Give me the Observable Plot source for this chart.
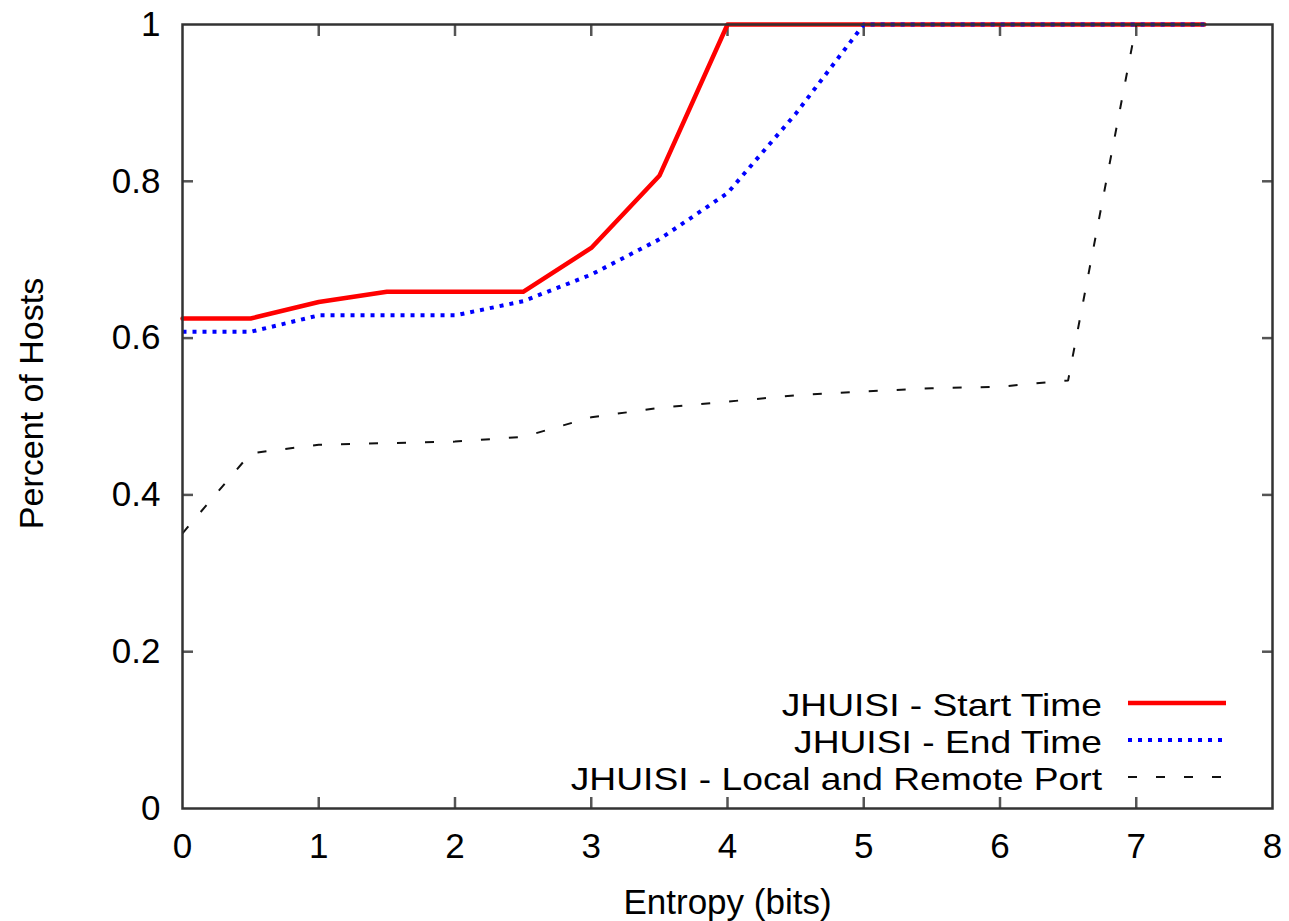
<!DOCTYPE html>
<html>
<head>
<meta charset="utf-8">
<script src="https://cdn.jsdelivr.net/npm/d3@7"></script>
<script src="https://cdn.jsdelivr.net/npm/@observablehq/plot@0.6"></script>
<style>
  html, body { margin: 0; padding: 0; background: #fff; }
  #wrap { position: relative; width: 1289px; height: 921px; }
  #legend { position: absolute; left: 0; top: 0; pointer-events: none; }
</style>
</head>
<body>
<div id="wrap"></div>
<script>
// Entropy values (bits)
const entropy = [0, 0.5, 1, 1.5, 2, 2.5, 3, 3.5, 4, 4.5, 5, 5.5, 6, 6.5, 7, 7.5];
// Series values (fraction of hosts)
const startTime = [0.625, 0.625, 0.646, 0.659, 0.659, 0.659, 0.715, 0.807, 1, 1, 1, 1, 1, 1, 1, 1];
const endTime   = [0.608, 0.608, 0.629, 0.629, 0.629, 0.647, 0.681, 0.726, 0.785, 0.886, 1, 1, 1, 1, 1, 1];
const localRemotePort = [0.351, 0.453, 0.464, 0.466, 0.468, 0.474, 0.499, 0.511, 0.519, 0.527, 0.532, 0.536, 0.538, 0.546, 1, 1];

const seriesNames = ["JHUISI - Start Time", "JHUISI - End Time", "JHUISI - Local and Remote Port"];

const xTicks = [0, 1, 2, 3, 4, 5, 6, 7, 8];
const xTickLabels = ["0", "1", "2", "3", "4", "5", "6", "7", "8"];
const yTicks = [0, 0.2, 0.4, 0.6, 0.8, 1];
const yTickLabels = ["0", "0.2", "0.4", "0.6", "0.8", "1"];
const xInnerTicks = [1, 2, 3, 4, 5, 6, 7];
const yInnerTicks = [0.2, 0.4, 0.6, 0.8];

const xLabel = "Entropy (bits)";
const yLabel = "Percent of Hosts";

const styles = [
  {stroke: "#ff0000", strokeWidth: 4.5, dash: null},
  {stroke: "#0000ff", strokeWidth: 4, dash: "4,6"},
  {stroke: "#111111", strokeWidth: 2, dash: "9,19"}
];
const seriesValues = [startTime, endTime, localRemotePort];

const tables = seriesValues.map(vals => entropy.map((x, i) => ({x, y: vals[i]})));

const fmtX = d => xTickLabels[xTicks.indexOf(d)];
const fmtY = d => yTickLabels[yTicks.findIndex(t => Math.abs(t - d) < 1e-9)];

const tickStroke = "#555";
const tickLen = 11;

const chart = Plot.plot({
  width: 1289,
  height: 921,
  marginLeft: 182,
  marginRight: 17,
  marginTop: 24,
  marginBottom: 113,
  style: {fontFamily: "'Liberation Sans', Arial, Helvetica, sans-serif", fontSize: "35px", color: "#000", background: "#fff"},
  x: {domain: [0, 8], axis: null},
  y: {domain: [0, 1], axis: null},
  marks: [
    // tick labels
    Plot.axisX(xTicks, {anchor: "bottom", tickSize: 0, tickPadding: 25, tickFormat: fmtX, label: null, fontSize: 35}),
    Plot.axisY(yTicks, {anchor: "left", tickSize: 0, tickPadding: 22, tickFormat: fmtY, label: null, fontSize: 35}),
    // inward ticks on all four sides
    Plot.axisX(xInnerTicks, {anchor: "bottom", tickSize: tickLen, dy: -tickLen, tickFormat: () => "", label: null, stroke: tickStroke, strokeWidth: 2.5}),
    Plot.axisX(xInnerTicks, {anchor: "top", tickSize: tickLen, dy: tickLen, tickFormat: () => "", label: null, stroke: tickStroke, strokeWidth: 2.5}),
    Plot.axisY(yInnerTicks, {anchor: "left", tickSize: tickLen, dx: tickLen, tickFormat: () => "", label: null, stroke: tickStroke, strokeWidth: 2.5}),
    Plot.axisY(yInnerTicks, {anchor: "right", tickSize: tickLen, dx: -tickLen, tickFormat: () => "", label: null, stroke: tickStroke, strokeWidth: 2.5}),
    // series lines
    ...tables.map((t, i) => Plot.line(t, {
      x: "x", y: "y",
      stroke: styles[i].stroke,
      strokeWidth: styles[i].strokeWidth,
      strokeDasharray: styles[i].dash,
      strokeLinecap: styles[i].dash ? "butt" : "round",
      strokeLinejoin: "round"
    })),
    Plot.frame({stroke: "#333", strokeWidth: 2.5}),
    // axis labels
    Plot.text([xLabel], {frameAnchor: "bottom", lineAnchor: "bottom", dy: 105, fontSize: 35, fill: "#000"}),
    Plot.text([yLabel], {frameAnchor: "left", rotate: -90, lineAnchor: "bottom", textAnchor: "middle", dx: -140, dy: -13, fontSize: 34, fill: "#000"})
  ]
});

const wrap = document.getElementById("wrap");
wrap.appendChild(chart);

// Legend overlay (inside plot, bottom-right)
const ns = "http://www.w3.org/2000/svg";
const leg = document.createElementNS(ns, "svg");
leg.setAttribute("id", "legend");
leg.setAttribute("width", 1289);
leg.setAttribute("height", 921);
const textRight = 1102, lineX1 = 1128, lineX2 = 1226, row0 = 703, rowGap = 37;
seriesNames.forEach((name, i) => {
  const cy = row0 + i * rowGap;
  const t = document.createElementNS(ns, "text");
  t.setAttribute("transform", `translate(${textRight},${cy + 13}) scale(1.2,1)`);
  t.setAttribute("text-anchor", "end");
  t.setAttribute("font-family", "'Liberation Sans', Arial, Helvetica, sans-serif");
  t.setAttribute("font-size", "31");
  t.setAttribute("fill", "#000");
  t.textContent = name;
  leg.appendChild(t);
  const l = document.createElementNS(ns, "line");
  l.setAttribute("x1", lineX1); l.setAttribute("x2", lineX2);
  l.setAttribute("y1", cy); l.setAttribute("y2", cy);
  l.setAttribute("stroke", styles[i].stroke);
  l.setAttribute("stroke-width", styles[i].strokeWidth);
  if (styles[i].dash) l.setAttribute("stroke-dasharray", styles[i].dash);
  leg.appendChild(l);
});
wrap.appendChild(leg);
</script>
</body>
</html>
